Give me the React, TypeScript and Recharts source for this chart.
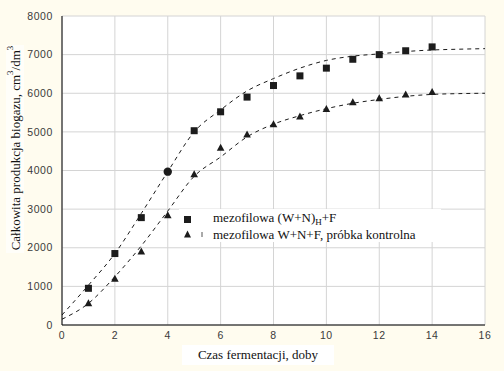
import {
  CartesianGrid,
  ComposedChart,
  Legend,
  Line,
  Scatter,
  XAxis,
  YAxis,
} from 'recharts';

const days = [1, 2, 3, 4, 5, 6, 7, 8, 9, 10, 11, 12, 13, 14];
const biogasH = [950, 1850, 2780, 3970, 5030, 5520, 5900, 6200, 6450, 6650, 6880, 7000, 7100, 7200];
const biogasControl = [560, 1200, 1900, 2840, 3900, 4590, 4930, 5200, 5400, 5590, 5770, 5870, 5970, 6030];

// fitted curves
const fitDays = [0, 1, 2, 3, 4, 5, 6, 7, 8, 9, 10, 11, 12, 13, 14, 15, 16];
const fitH = [260, 1030, 1850, 2890, 3970, 5000, 5570, 6060, 6380, 6650, 6850, 6960, 7020, 7080, 7120, 7140, 7155];
const fitControl = [150, 560, 1250, 2050, 2950, 3850, 4350, 4870, 5200, 5420, 5600, 5740, 5840, 5920, 5970, 5990, 6000];

const xTicks = [0, 2, 4, 6, 8, 10, 12, 14, 16];
const yTicks = [0, 1000, 2000, 3000, 4000, 5000, 6000, 7000, 8000];

const pointsH = days.map((d, i) => ({ x: d, y: biogasH[i] }));
const pointsControl = days.map((d, i) => ({ x: d, y: biogasControl[i] }));
const curveH = fitDays.map((d, i) => ({ x: d, y: fitH[i] }));
const curveControl = fitDays.map((d, i) => ({ x: d, y: fitControl[i] }));

const INK = '#1c1c1c';
const SERIF = '"Liberation Serif", "Times New Roman", serif';
const SANS = '"Liberation Sans", Arial, sans-serif';

const SquareMark = (props: any) => {
  const { cx, cy, payload } = props;
  if (cx == null || cy == null) return null;
  // the day-4 point shows as a round dot in the original
  if (payload && payload.x === 4) {
    return <circle cx={cx} cy={cy} r={4.2} fill={INK} />;
  }
  return <rect x={cx - 3.5} y={cy - 3.5} width={7} height={7} fill={INK} />;
};

const TriangleMark = (props: any) => {
  const { cx, cy } = props;
  if (cx == null || cy == null) return null;
  return <path d={`M${cx},${cy - 4} L${cx + 3.8},${cy + 3} L${cx - 3.8},${cy + 3} Z`} fill={INK} />;
};

const LegendBox = () => (
  <div
    style={{
      background: '#fff',
      fontFamily: SERIF,
      fontSize: 13,
      color: '#111',
      lineHeight: '15px',
      paddingTop: 3,
    }}
  >
    <div style={{ display: 'flex', alignItems: 'center', height: 15 }}>
      <svg width={34} height={15}>
        <rect x={5} y={4} width={7} height={7} fill={INK} />
      </svg>
      <span>
        mezofilowa (W+N)<sub style={{ fontSize: 9, verticalAlign: '-3px' }}>H</sub>+F
      </span>
    </div>
    <div style={{ display: 'flex', alignItems: 'center', height: 15 }}>
      <svg width={34} height={15}>
        <path d="M8.5,3.5 L12,10.5 L5,10.5 Z" fill={INK} />
        <line x1={23} y1={5} x2={23} y2={10} stroke="#555" strokeWidth={1} />
      </svg>
      <span>mezofilowa W+N+F, próbka kontrolna</span>
    </div>
  </div>
);

const YTitle = (props: any) => {
  const vb = props.viewBox || {};
  const cy = (vb.y ?? 16) + 132;
  return (
    <text
      x={15}
      y={cy}
      transform={`rotate(-90, 15, ${cy})`}
      textAnchor="middle"
      dominantBaseline="central"
      fontFamily={SERIF}
      fontSize={13}
      fill="#111"
    >
      Całkowita produkcja biogazu, cm<tspan dy={-5} fontSize={9}>3</tspan>
      <tspan dy={5}>/dm</tspan>
      <tspan dy={-5} fontSize={9}>3</tspan>
    </text>
  );
};

const XTitle = () => (
  <g>
    <rect x={182} y={345} width={152} height={20} fill="#fff" />
    <text x={258} y={359} textAnchor="middle" fontFamily={SERIF} fontSize={13} fill="#111">
      Czas fermentacji, doby
    </text>
  </g>
);

export default function App() {
  return (
    <div style={{ position: 'absolute', left: 0, top: 0, width: 504, height: 371, background: '#fffcef' }}>
      <svg style={{ position: 'absolute', left: 0, top: 0 }} width={504} height={371}>
        <rect x={6} y={45} width={18} height={208} fill="#fffef9" />
      </svg>
      <div style={{ position: 'absolute', left: 0, top: 0 }}>
        <ComposedChart width={504} height={371} margin={{ top: 16, right: 19, bottom: 16, left: 8 }}>
          <CartesianGrid stroke="#d4d4d4" fill="#ffffff" strokeWidth={1} />
          <XAxis
            dataKey="x"
            type="number"
            domain={[0, 16]}
            ticks={xTicks}
            height={30}
            tickSize={0}
            tickMargin={7}
            axisLine={{ stroke: '#000' }}
            tick={{ fontFamily: SANS, fontSize: 10.5, fill: '#3a3a3a', letterSpacing: 0.6 }}
            label={<XTitle />}
          />
          <XAxis xAxisId="top" orientation="top" type="number" domain={[0, 16]} height={0} tick={false} tickLine={false} axisLine={{ stroke: '#000' }} />
          <YAxis
            type="number"
            domain={[0, 8000]}
            ticks={yTicks}
            width={54}
            tickSize={0}
            tickMargin={9}
            axisLine={{ stroke: '#000' }}
            tick={{ fontFamily: SANS, fontSize: 10.5, fill: '#3a3a3a', letterSpacing: 0.6 }}
            label={<YTitle />}
          />
          <YAxis yAxisId="right" orientation="right" type="number" domain={[0, 8000]} width={0} tick={false} tickLine={false} axisLine={{ stroke: '#000' }} />
          <Legend
            layout="horizontal"
            verticalAlign="middle"
            align="center"
            content={<LegendBox />}
            wrapperStyle={{ left: 179, top: 209, width: 262, height: 36 }}
          />
          <Line
            data={curveH}
            dataKey="y"
            type="monotone"
            stroke={INK}
            strokeWidth={1}
            strokeDasharray="4 4"
            dot={false}
            activeDot={false}
            legendType="none"
            isAnimationActive={false}
          />
          <Line
            data={curveControl}
            dataKey="y"
            type="monotone"
            stroke={INK}
            strokeWidth={1}
            strokeDasharray="4 4"
            dot={false}
            activeDot={false}
            legendType="none"
            isAnimationActive={false}
          />
          <Scatter data={pointsH} dataKey="y" shape={<SquareMark />} isAnimationActive={false} />
          <Scatter data={pointsControl} dataKey="y" shape={<TriangleMark />} isAnimationActive={false} />
        </ComposedChart>
      </div>
    </div>
  );
}
